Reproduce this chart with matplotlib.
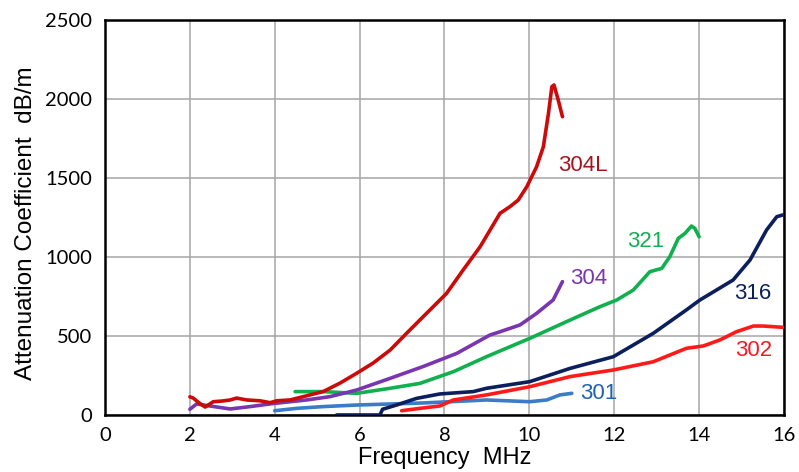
import matplotlib.pyplot as plt

# -------------------------------
# DATA
# -------------------------------
f_304L = [2.0, 2.08, 2.2, 2.36, 2.55, 2.75, 2.95, 3.1, 3.34, 3.65, 3.89, 4.05, 4.36, 4.67,
          5.14, 5.54, 5.93, 6.32, 6.72, 7.11, 7.46, 8.05, 8.44, 8.84, 9.31, 9.54, 9.74,
          9.94, 10.17, 10.33, 10.45, 10.53, 10.58, 10.68, 10.78]
a_304L = [115, 107, 80, 50, 84, 88, 95, 107, 95, 90, 78, 90, 95, 116,
          148, 202, 264, 329, 411, 518, 612, 770, 918, 1065, 1277, 1318, 1361,
          1445, 1571, 1698, 1909, 2078, 2089, 1994, 1888]

f_304 = [2.0, 2.16, 2.47, 2.95, 3.42, 3.89, 4.36, 4.75, 5.3, 5.93, 6.72, 7.49, 8.29,
         9.07, 9.31, 9.78, 10.17, 10.56, 10.78]
a_304 = [36, 70, 57, 38, 53, 70, 84, 95, 116, 158, 232, 306, 390,
         506, 527, 570, 643, 728, 844]

f_321 = [4.48, 5.14, 5.93, 6.72, 7.42, 8.21, 8.99, 10.01, 10.96, 11.66, 12.06, 12.45,
         12.84, 13.12, 13.31, 13.51, 13.67, 13.82, 13.9, 14.0]
a_321 = [148, 148, 137, 169, 200, 274, 369, 485, 601, 685, 728, 791,
         907, 928, 1002, 1118, 1150, 1196, 1181, 1128]

f_316 = [5.46, 6.48, 6.54, 6.87, 7.34, 7.89, 8.68, 8.99, 10.01, 10.96, 11.98, 12.92,
         13.7, 14.02, 14.8, 15.2, 15.59, 15.83, 15.97]
a_316 = [0, 0, 36, 63, 105, 133, 148, 169, 211, 295, 369, 517,
         665, 728, 854, 981, 1171, 1255, 1266]

f_302 = [6.99, 7.42, 7.89, 8.21, 8.99, 10.01, 10.96, 11.98, 12.92, 13.7, 14.1, 14.49,
         14.88, 15.28, 15.51, 15.97]
a_302 = [27, 42, 57, 95, 127, 179, 243, 285, 337, 422, 437, 475,
         527, 563, 563, 555]

f_301 = [4.0, 4.52, 5.14, 5.93, 7.49, 8.99, 10.01, 10.41, 10.72, 11.0]
a_301 = [27, 42, 53, 63, 76, 95, 84, 95, 127, 137]

# series name, label position (MHz, dB/m)
labels = ['304L', '304', '321', '316', '302', '301']
label_x = [11.27, 11.4, 12.75, 15.27, 15.29, 11.64]
label_y = [1582, 867, 1097, 772, 407, 139]

x_ticks = [0, 2, 4, 6, 8, 10, 12, 14, 16]
y_ticks = [0, 500, 1000, 1500, 2000, 2500]

# -------------------------------
# STYLE
# -------------------------------
line_colors = {'304L': '#cc0a0a', '304': '#7a35b0', '321': '#11b04f',
               '316': '#0a1f5c', '302': '#ff1a1a', '301': '#3a7cc8'}
text_colors = {'304L': '#a8141e', '304': '#7a35b0', '321': '#11b04f',
               '316': '#0a1f5c', '302': '#ee1c25', '301': '#1f62ad'}

series = {'304L': (f_304L, a_304L), '304': (f_304, a_304), '321': (f_321, a_321),
          '316': (f_316, a_316), '302': (f_302, a_302), '301': (f_301, a_301)}

plt.rcParams['font.family'] = ['Liberation Sans', 'DejaVu Sans']

fig = plt.figure(figsize=(7.99, 4.72), dpi=100)
ax = fig.add_axes([0.1314, 0.1208, 0.8498, 0.8368])

for name in ['301', '302', '316', '321', '304', '304L']:
    xs, ys = series[name]
    ax.plot(xs, ys, color=line_colors[name], lw=2.6,
            solid_joinstyle='round', solid_capstyle='round', zorder=3)

for name, lx, ly in zip(labels, label_x, label_y):
    ax.text(lx, ly, name, color=text_colors[name], fontsize=16,
            ha='center', va='center', zorder=4)

ax.set_xlim(0, 16)
ax.set_ylim(0, 2500)
ax.set_xticks(x_ticks)
ax.set_yticks(y_ticks)
ax.tick_params(length=0, labelsize=14.5)
ax.tick_params(axis='x', pad=9)
ax.tick_params(axis='y', pad=9)
for lab in ax.get_xticklabels() + ax.get_yticklabels():
    lab.set_family(['Lato', 'Liberation Sans'])

ax.grid(True, color='#a6a6a6', lw=1.1, zorder=0)
for side in ax.spines.values():
    side.set_linewidth(1.8)
    side.set_color('black')

ax.set_xlabel('Frequency  MHz', fontsize=17, labelpad=1.5)
ax.set_ylabel('Attenuation Coefficient  dB/m', fontsize=17.5, labelpad=6)
# y label sits slightly below the axis centre in the reference
ax.yaxis.label.set_y(0.485)

fig.savefig('out.png', dpi=100)
